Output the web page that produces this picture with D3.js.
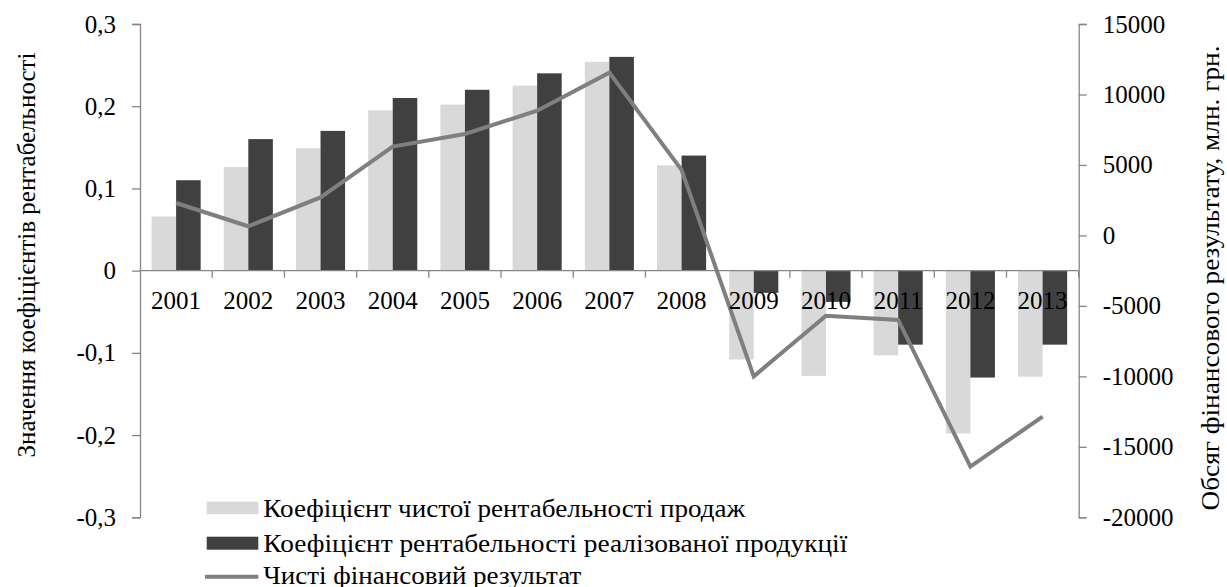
<!DOCTYPE html>
<html>
<head>
<meta charset="utf-8">
<script src="https://cdn.jsdelivr.net/npm/d3@7"></script>
<style>
  html, body { margin: 0; padding: 0; background: #fff; }
  svg { display: block; }
  text { font-family: "Liberation Serif", "Times New Roman", serif; fill: #000; }
</style>
</head>
<body>
<svg id="chart" width="1227" height="587"></svg>
<script>
const years = ["2001","2002","2003","2004","2005","2006","2007","2008","2009","2010","2011","2012","2013"];
const netSalesRatio = [0.066, 0.126, 0.149, 0.195, 0.202, 0.225, 0.254, 0.128, -0.108, -0.128, -0.103, -0.198, -0.129];
const productRatio  = [0.110, 0.160, 0.170, 0.210, 0.220, 0.240, 0.260, 0.140, -0.027, -0.038, -0.090, -0.130, -0.090];
const netResult     = [2300, 650, 2700, 6300, 7200, 8850, 11550, 4650, -10000, -5700, -6000, -16400, -12850];
const leftTicks  = [-0.3, -0.2, -0.1, 0, 0.1, 0.2, 0.3];
const rightTicks = [-20000, -15000, -10000, -5000, 0, 5000, 10000, 15000];
const seriesNames = ["Коефіцієнт чистої рентабельності продаж", "Коефіцієнт рентабельності реалізованої продукції", "Чисті фінансовий результат"];
const leftTitle = "Значення коефіцієнтів рентабельності";
const rightTitle = "Обсяг фінансового результату,  млн. грн.";

const svg = d3.select("#chart");
const L = 140, R = 1078.7, T = 24, B = 517.3;
const axisColor = "#868686";
const lightColor = "#d9d9d9", darkColor = "#404040", lineColor = "#7f7f7f";
const FS = "25px";

const x = d3.scaleBand().domain(years).range([L, R]).paddingInner(0).paddingOuter(0);
const yL = d3.scaleLinear().domain([-0.3, 0.3]).range([B, T]);
const yR = d3.scaleLinear().domain([-20000, 15000]).range([B, T]);
const bw = x.bandwidth() * 0.34;

// bars
const g = svg.append("g");
g.selectAll("rect.light").data(years).join("rect")
  .attr("x", d => x(d) + x.bandwidth()/2 - bw)
  .attr("width", bw)
  .attr("y", (d,i) => Math.min(yL(netSalesRatio[i]), yL(0)))
  .attr("height", (d,i) => Math.abs(yL(netSalesRatio[i]) - yL(0)))
  .attr("fill", lightColor);
g.selectAll("rect.dark").data(years).join("rect")
  .attr("x", d => x(d) + x.bandwidth()/2)
  .attr("width", bw)
  .attr("y", (d,i) => Math.min(yL(productRatio[i]), yL(0)))
  .attr("height", (d,i) => Math.abs(yL(productRatio[i]) - yL(0)))
  .attr("fill", darkColor);

// left axis
const la = svg.append("g").attr("transform", `translate(${L},0)`)
  .call(d3.axisLeft(yL).tickValues(leftTicks).tickSize(8).tickPadding(16)
    .tickFormat(d => d === 0 ? "0" : (d < 0 ? "-" : "") + Math.abs(d).toFixed(1).replace(".", ",")));
la.select(".domain").attr("stroke", axisColor).attr("stroke-width", 1.3);
la.selectAll(".tick line").attr("stroke", axisColor).attr("stroke-width", 1.3);
la.selectAll(".tick text").style("font-size", FS).attr("fill", "#000")
  .style("font-family", "'Liberation Serif', serif");

// right axis
const ra = svg.append("g").attr("transform", `translate(${R},0)`)
  .call(d3.axisRight(yR).tickValues(rightTicks).tickSize(8).tickPadding(16)
    .tickFormat(d => (d < 0 ? "-" : "") + Math.abs(d)));
ra.select(".domain").attr("stroke", axisColor).attr("stroke-width", 1.3);
ra.selectAll(".tick line").attr("stroke", axisColor).attr("stroke-width", 1.3);
ra.selectAll(".tick text").style("font-size", FS).attr("fill", "#000")
  .style("font-family", "'Liberation Serif', serif");

// category axis at zero
const y0 = yL(0);
svg.append("line").attr("x1", L).attr("x2", R).attr("y1", y0).attr("y2", y0)
  .attr("stroke", axisColor).attr("stroke-width", 1.3);
svg.append("g").selectAll("line").data(years.slice(1).concat(["end"])).join("line")
  .attr("x1", (d,i) => i < years.length - 1 ? x(d) : R)
  .attr("x2", (d,i) => i < years.length - 1 ? x(d) : R)
  .attr("y1", y0).attr("y2", y0 + 7)
  .attr("stroke", axisColor).attr("stroke-width", 1.3);

// line series
const line = d3.line().x((d,i) => x(years[i]) + x.bandwidth()/2).y(d => yR(d));
svg.append("path").datum(netResult).attr("d", line)
  .attr("fill", "none").attr("stroke", lineColor).attr("stroke-width", 4).attr("stroke-linejoin", "miter");

// year labels (on top)
svg.append("g").selectAll("text").data(years).join("text")
  .attr("x", d => x(d) + x.bandwidth()/2)
  .attr("y", y0 + 38)
  .attr("text-anchor", "middle")
  .style("font-size", FS)
  .text(d => d);

// axis titles
svg.append("text").attr("transform", `translate(35,255) rotate(-90)`)
  .attr("text-anchor", "middle").style("font-size", FS)
  .attr("textLength", 405).attr("lengthAdjust", "spacingAndGlyphs").text(leftTitle);
svg.append("text").attr("transform", `translate(1219,278) rotate(-90)`)
  .attr("text-anchor", "middle").style("font-size", FS)
  .attr("textLength", 465).attr("lengthAdjust", "spacingAndGlyphs").text(rightTitle);

// legend
const lg = svg.append("g");
lg.append("rect").attr("x", 206.7).attr("y", 501.7).attr("width", 51.6).attr("height", 12.5).attr("fill", lightColor);
lg.append("rect").attr("x", 206.7).attr("y", 536.7).attr("width", 51.6).attr("height", 13).attr("fill", darkColor);
lg.append("line").attr("x1", 205).attr("x2", 258.3).attr("y1", 576.7).attr("y2", 576.7)
  .attr("stroke", lineColor).attr("stroke-width", 4);
const legBase = [517, 552, 584];
const legLen = [482, 584, 318];
lg.selectAll("text").data(seriesNames).join("text")
  .attr("x", 263.3).attr("y", (d,i) => legBase[i])
  .attr("textLength", (d,i) => legLen[i]).attr("lengthAdjust", "spacingAndGlyphs")
  .style("font-size", FS).text(d => d);
</script>
</body>
</html>
